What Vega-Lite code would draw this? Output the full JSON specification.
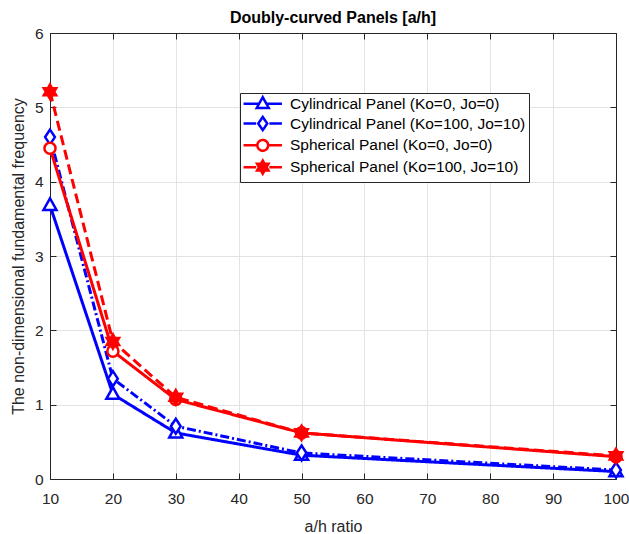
{
  "$schema": "https://vega.github.io/schema/vega-lite/v6.json",
  "autosize": {"type": "none"},
  "padding": {"left": 50, "top": 33, "right": 13, "bottom": 55},
  "width": 566,
  "height": 446,
  "background": "white",
  "title": {"text": "Doubly-curved Panels [a/h]", "font": "Liberation Sans", "fontSize": 16, "fontWeight": "bold", "color": "#000000", "offset": 0, "anchor": "middle"},
  "config": {
    "view": {"stroke": null},
    "axis": {
      "labelFont": "Liberation Sans", "labelFontSize": 15.5, "labelColor": "#262626",
      "titleFont": "Liberation Sans", "titleFontSize": 16, "titleFontWeight": "normal", "titleColor": "#262626",
      "domainColor": "#262626", "domainWidth": 1, "tickColor": "#262626", "tickSize": -6, "tickWidth": 1,
      "gridColor": "#e3e3e3", "gridWidth": 1
    },
    "legend": {
      "labelFont": "Liberation Sans", "labelFontSize": 15.5, "labelColor": "#000000"
    }
  },
  "data": {"values": [
    {"ratio": 10, "freq": 3.68, "series": "Cylindrical Panel (Ko=0, Jo=0)", "code": "A"},
    {"ratio": 20, "freq": 1.14, "series": "Cylindrical Panel (Ko=0, Jo=0)", "code": "A"},
    {"ratio": 30, "freq": 0.62, "series": "Cylindrical Panel (Ko=0, Jo=0)", "code": "A"},
    {"ratio": 50, "freq": 0.32, "series": "Cylindrical Panel (Ko=0, Jo=0)", "code": "A"},
    {"ratio": 100, "freq": 0.10, "series": "Cylindrical Panel (Ko=0, Jo=0)", "code": "A"},
    {"ratio": 10, "freq": 4.60, "series": "Cylindrical Panel (Ko=100, Jo=10)", "code": "B"},
    {"ratio": 20, "freq": 1.35, "series": "Cylindrical Panel (Ko=100, Jo=10)", "code": "B"},
    {"ratio": 30, "freq": 0.71, "series": "Cylindrical Panel (Ko=100, Jo=10)", "code": "B"},
    {"ratio": 50, "freq": 0.35, "series": "Cylindrical Panel (Ko=100, Jo=10)", "code": "B"},
    {"ratio": 100, "freq": 0.12, "series": "Cylindrical Panel (Ko=100, Jo=10)", "code": "B"},
    {"ratio": 10, "freq": 4.45, "series": "Spherical Panel (Ko=0, Jo=0)", "code": "C"},
    {"ratio": 20, "freq": 1.72, "series": "Spherical Panel (Ko=0, Jo=0)", "code": "C"},
    {"ratio": 30, "freq": 1.07, "series": "Spherical Panel (Ko=0, Jo=0)", "code": "C"},
    {"ratio": 50, "freq": 0.62, "series": "Spherical Panel (Ko=0, Jo=0)", "code": "C"},
    {"ratio": 100, "freq": 0.30, "series": "Spherical Panel (Ko=0, Jo=0)", "code": "C"},
    {"ratio": 10, "freq": 5.21, "series": "Spherical Panel (Ko=100, Jo=10)", "code": "D"},
    {"ratio": 20, "freq": 1.85, "series": "Spherical Panel (Ko=100, Jo=10)", "code": "D"},
    {"ratio": 30, "freq": 1.10, "series": "Spherical Panel (Ko=100, Jo=10)", "code": "D"},
    {"ratio": 50, "freq": 0.62, "series": "Spherical Panel (Ko=100, Jo=10)", "code": "D"},
    {"ratio": 100, "freq": 0.31, "series": "Spherical Panel (Ko=100, Jo=10)", "code": "D"}
  ]},
  "layer": [
    {
      "mark": {"type": "line", "strokeWidth": 3},
      "encoding": {
        "x": {"field": "ratio", "type": "quantitative", "title": "a/h ratio",
          "scale": {"domain": [10, 100], "nice": false, "zero": false},
          "axis": {"values": [10, 20, 30, 40, 50, 60, 70, 80, 90, 100], "labelPadding": 18, "titlePadding": 12, "labelFlush": false}},
        "y": {"field": "freq", "type": "quantitative", "title": "The non-dimensional fundamental frequency",
          "scale": {"domain": [0, 6], "nice": false},
          "axis": {"values": [0, 1, 2, 3, 4, 5, 6], "labelPadding": 13, "titlePadding": 8}},
        "stroke": {"field": "series", "type": "nominal",
          "scale": {"domain": ["Cylindrical Panel (Ko=0, Jo=0)", "Cylindrical Panel (Ko=100, Jo=10)", "Spherical Panel (Ko=0, Jo=0)", "Spherical Panel (Ko=100, Jo=10)"],
                    "range": ["#0000ff", "#0000ff", "#ff0000", "#ff0000"]},
          "legend": {
            "title": null, "orient": "none", "legendX": 190, "legendY": 60,
            "fillColor": "white", "strokeColor": "#262626",
            "padding": 3, "symbolSize": 144, "symbolStrokeWidth": 2.5, "symbolOffset": 12, "labelOffset": 19.5, "rowPadding": -1.2, "labelLimit": 400,
            "encode": {"symbols": {"update": {
              "shape": {"signal": "['M-3.2,0L-0.6,0M0.6,0L3.2,0M0,-1.1L1,0.7L-1,0.7Z','M-3.2,0L-1.1,0M1.1,0L3.2,0M0,-1.1L0.75,0L0,1.1L-0.75,0Z','M-3.2,0L-0.9,0M0.9,0L3.2,0M0.9,0A0.9,0.9,0,1,1,-0.9,0A0.9,0.9,0,1,1,0.9,0Z','M-3.2,0L-1.1,0M1.1,0L3.2,0M0,-1.1L0.95,0.55L-0.95,0.55ZM0,1.1L-0.95,-0.55L0.95,-0.55Z'][indexof(['Cylindrical Panel (Ko=0, Jo=0)','Cylindrical Panel (Ko=100, Jo=10)','Spherical Panel (Ko=0, Jo=0)','Spherical Panel (Ko=100, Jo=10)'], datum.value)]"},
              "fill": {"signal": "datum.value === 'Spherical Panel (Ko=100, Jo=10)' ? '#ff0000' : '#ffffff'"},
              "strokeDash": {"signal": "[1, 0]"}
            }}}
          }},
        "strokeDash": {"field": "code", "type": "nominal", "legend": null,
          "scale": {"range": [[1, 0], [9, 3, 2, 3], [1, 0], [10, 5]]}}
      }
    },
    {
      "mark": {"type": "point", "filled": true, "strokeWidth": 2.5, "size": 170, "opacity": 1},
      "encoding": {
        "x": {"field": "ratio", "type": "quantitative",
          "axis": {"orient": "top", "values": [10, 20, 30, 40, 50, 60, 70, 80, 90, 100], "labels": false, "title": null, "grid": false}},
        "y": {"field": "freq", "type": "quantitative",
          "axis": {"orient": "right", "values": [0, 1, 2, 3, 4, 5, 6], "labels": false, "title": null, "grid": false}},
        "stroke": {"field": "series", "type": "nominal"},
        "fill": {"field": "code", "type": "nominal", "legend": null,
          "scale": {"range": ["#ffffff", "#ffffff", "#ffffff", "#ff0000"]}},
        "shape": {"field": "code", "type": "nominal", "legend": null,
          "scale": {"range": ["M0,-1.1L1,0.7L-1,0.7Z", "M0,-1.15L0.75,0L0,1.15L-0.75,0Z", "M0.85,0A0.85,0.85,0,1,1,-0.85,0A0.85,0.85,0,1,1,0.85,0Z", "M0,-1.1L0.95,0.55L-0.95,0.55ZM0,1.1L-0.95,-0.55L0.95,-0.55Z"]}}
      }
    }
  ],
  "resolve": {"axis": {"x": "independent", "y": "independent"}}
}
